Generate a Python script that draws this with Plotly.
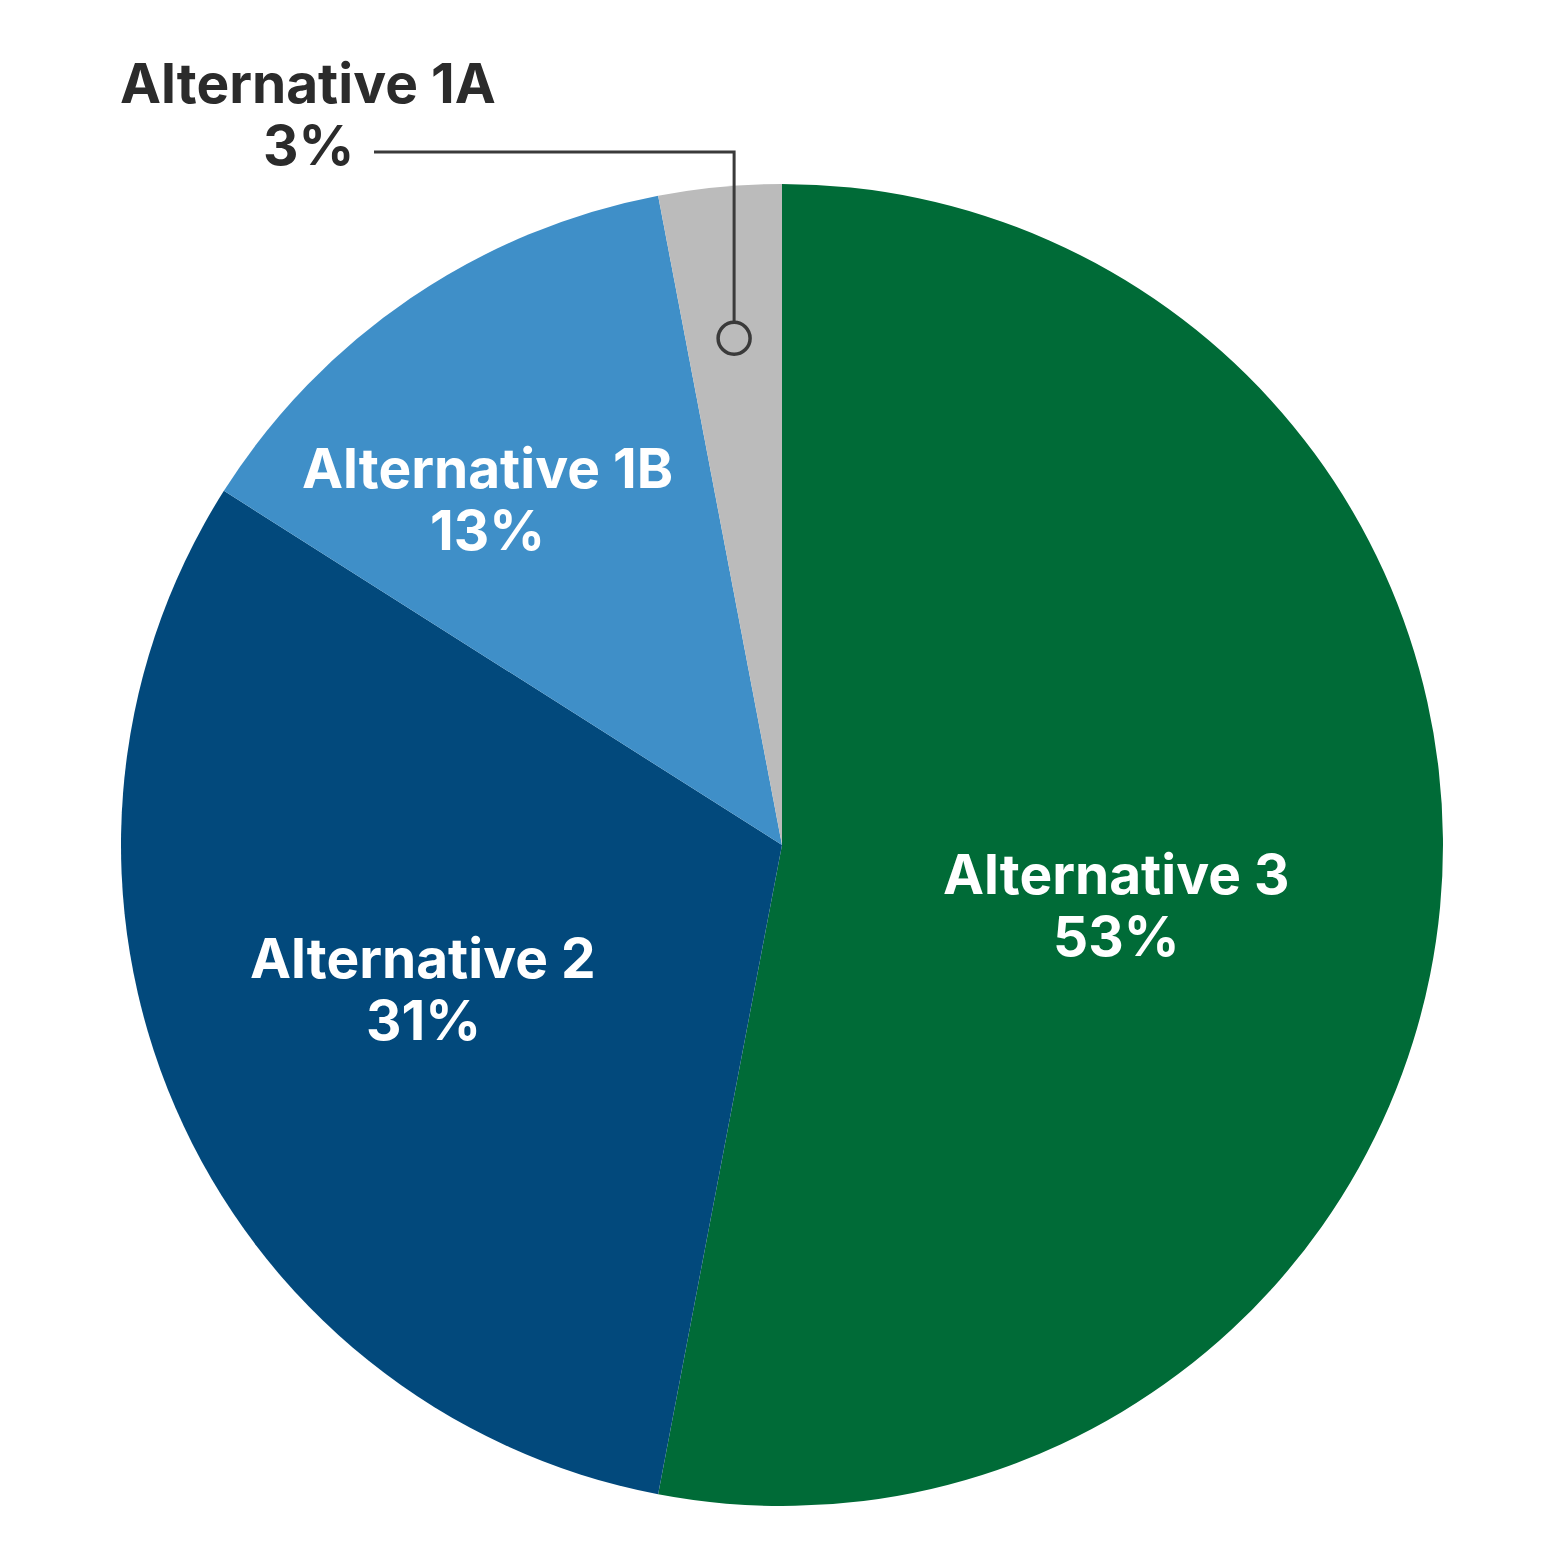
import math
import plotly.graph_objects as go

# 代替案ごとの割合 (%)
alternatives = ["Alternative 3", "Alternative 2", "Alternative 1B", "Alternative 1A"]
shares = [53, 31, 13, 3]
colors = ["#006B37", "#02497C", "#3F8FC8", "#BBBBBB"]

W = H = 1563
OFF = 8                          # page body margin in the screenshot
cx, cy, radius = 782, 845, 661   # pixel geometry of the pie


def px(x):
    return (x - OFF) / W


def py(y):
    return 1 - (y - OFF) / H


fig = go.Figure(go.Pie(
    labels=alternatives,
    values=shares,
    marker=dict(colors=colors, line=dict(width=0)),
    sort=False,
    direction="clockwise",
    rotation=0,
    textinfo="none",
    hoverinfo="label+percent",
    showlegend=False,
    domain=dict(x=[px(cx - radius), px(cx + radius)], y=[py(cy + radius), py(cy - radius)]),
))

# label placement (center x, baseline y of first line) in pixels
label_pos = {
    "Alternative 3": (1116, 894, "white"),
    "Alternative 2": (423, 978, "white"),
    "Alternative 1B": (488, 488, "white"),
    "Alternative 1A": (308, 103, "#2B2B2B"),
}
font_size = 55
line_gap = 62

annotations = []
for name, val in zip(alternatives, shares):
    x, base, col = label_pos[name]
    for i, txt in enumerate([name, f"{val}%"]):
        annotations.append(dict(
            text=f"<b>{txt}</b>",
            x=px(x), y=py(base + i * line_gap - 20),
            xref="paper", yref="paper", xanchor="center", yanchor="middle",
            showarrow=False,
            font=dict(family="Inter", size=font_size, color=col),
        ))

# leader for the small slice: marker at 77% of radius on the slice mid angle
total = sum(shares)
mid = (sum(shares[:3]) + shares[3] / 2) / total * 2 * math.pi
mx = cx + 0.77 * radius * math.sin(mid)
my = cy - 0.77 * radius * math.cos(mid)
r_dot = 16
elbow_y = 152
line_col = "#3A3A3A"

shapes = [
    dict(type="path", xref="paper", yref="paper",
         path=f"M {px(374)},{py(elbow_y)} L {px(mx)},{py(elbow_y)} L {px(mx)},{py(my - r_dot)}",
         line=dict(color=line_col, width=3)),
    dict(type="circle", xref="paper", yref="paper",
         x0=px(mx - r_dot), x1=px(mx + r_dot), y0=py(my + r_dot), y1=py(my - r_dot),
         line=dict(color=line_col, width=3.5), fillcolor="rgba(0,0,0,0)"),
]

fig.update_layout(
    width=W, height=H,
    margin=dict(l=0, r=0, t=0, b=0),
    paper_bgcolor="white",
    plot_bgcolor="white",
    annotations=annotations,
    shapes=shapes,
)

fig.write_html("out.html")
